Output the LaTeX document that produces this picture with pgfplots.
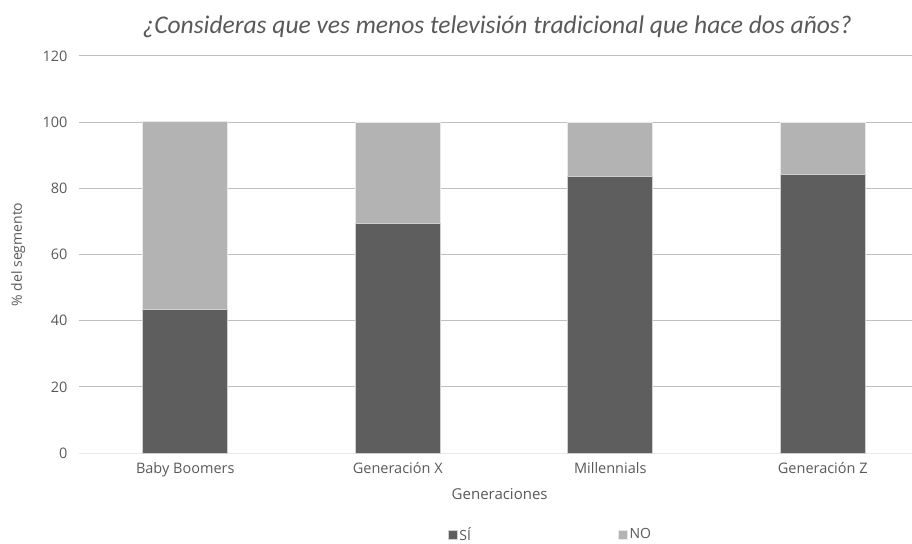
\documentclass[border=0pt]{standalone}
\usepackage{pgfplots}
\pgfplotsset{compat=1.18}
\usepackage{fontspec}
\setmainfont{Open Sans}
\newfontfamily\titlefont{Carlito}
\definecolor{txt}{HTML}{595959}
\definecolor{dark}{HTML}{5E5E5E}
\definecolor{light}{HTML}{B3B3B3}
\definecolor{grid}{HTML}{EAEAEA}
\begin{document}
\begin{tikzpicture}[x=1pt,y=1pt]
\useasboundingbox (0,0) rectangle (912,543);
\begin{axis}[
  at={(79pt,90pt)}, anchor=south west,
  scale only axis, width=833pt, height=397pt,
  ybar stacked, bar width=0.4,
  xmin=-0.5, xmax=3.42, ymin=0, ymax=120,
  xtick={0,1,2,3},
  xticklabels={Baby Boomers,Generación X,Millennials,Generación Z},
  ytick={0,20,...,120},
  ymajorgrids, xmajorgrids=false, grid style={grid, line width=1pt},
  axis line style={draw=none},
  xtick style={draw=none}, ytick style={draw=none},
  major tick length=0pt,
  tick label style={font=\fontsize{14.5}{17}\selectfont, text=txt},
  /pgf/number format/assume math mode=true,
  yticklabel style={xshift=-8pt},
  xticklabel style={yshift=-6pt},
  clip=false,
  xlabel={Generaciones}, ylabel={\% del segmento},
  xlabel style={font=\fontsize{15}{17}\selectfont, text=txt, at={(axis description cs:0.505,-0.103)}, anchor=center},
  ylabel style={font=\fontsize{14}{16}\selectfont, text=txt, at={(axis description cs:-0.073,0.5)}, anchor=center, rotate=0},
  title={\titlefont\itshape ¿Consideras que ves menos televisión tradicional que hace dos años?},
  title style={font=\fontsize{25.5}{29}\selectfont, text=txt, at={(axis description cs:0.502,1.058)}, anchor=center},
  legend style={at={(axis description cs:0.566,-0.205)}, anchor=center, draw=none, legend columns=2,
    font=\fontsize{14}{16}\selectfont, text=txt, /tikz/every even column/.append style={column sep=145pt}},
  legend image code/.code={\fill[#1] (0pt,-4.5pt) rectangle (9pt,4.5pt);},
]
\addplot[fill=dark, draw=white!70!dark, line width=0.6pt] coordinates {(0,43.3) (1,69.3) (2,83.5) (3,84.2)};
\addplot[fill=light, draw=white!70!light, line width=0.6pt] coordinates {(0,56.9) (1,30.6) (2,16.4) (3,15.7)};
\draw[grid, line width=1pt] (axis cs:-0.5,0) -- (axis cs:3.42,0);
\legend{SÍ,NO}
\end{axis}
\end{tikzpicture}
\end{document}
